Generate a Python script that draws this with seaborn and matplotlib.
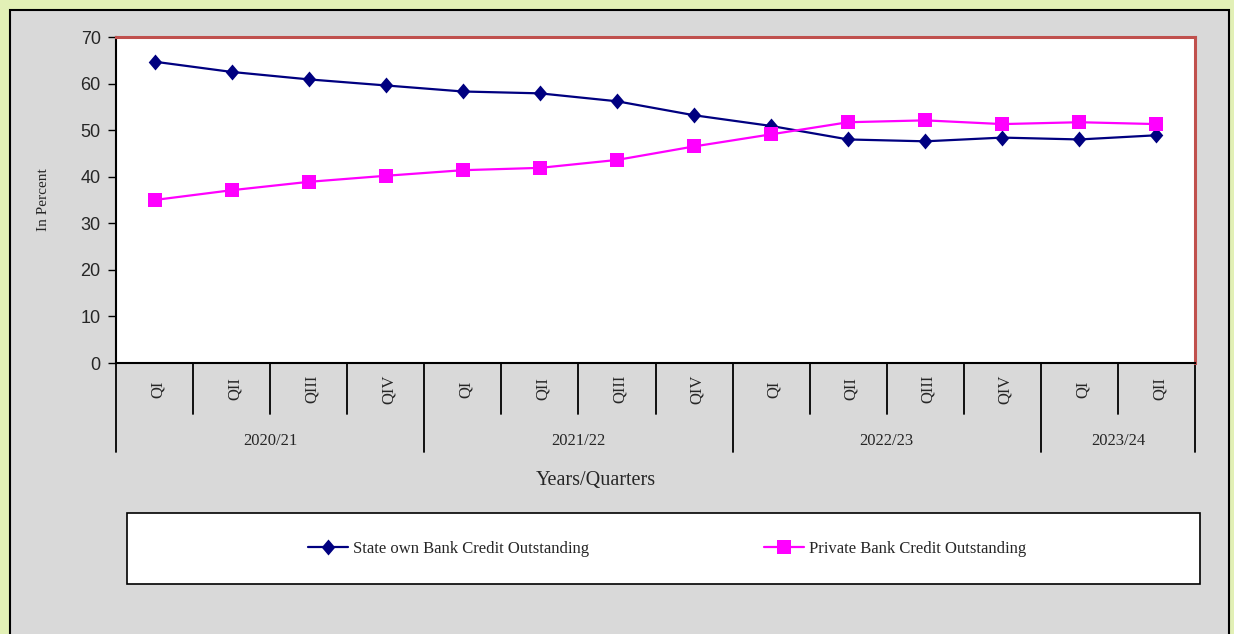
import matplotlib
matplotlib.use("Agg")
import matplotlib.pyplot as plt
from matplotlib.patches import Rectangle
import matplotlib.transforms as mtransforms
import numpy as np
import pandas as pd
import seaborn as sns

# data
quarters = ["QI", "QII", "QIII", "QIV", "QI", "QII", "QIII", "QIV",
            "QI", "QII", "QIII", "QIV", "QI", "QII"]
years = ["2020/21", "2021/22", "2022/23", "2023/24"]
quarters_per_year = [4, 4, 4, 2]
state_share = [64.7, 62.5, 60.9, 59.6, 58.3, 57.9, 56.2, 53.2,
               50.9, 48.0, 47.6, 48.4, 48.0, 48.9]
private_share = [35.0, 37.1, 38.9, 40.2, 41.4, 41.9, 43.6, 46.5,
                 49.1, 51.7, 52.1, 51.3, 51.7, 51.3]
series_names = ["State own Bank Credit Outstanding", "Private Bank Credit Outstanding"]

pos = np.arange(len(quarters))
df = pd.concat([
    pd.DataFrame({"pos": pos, "value": state_share, "series": series_names[0]}),
    pd.DataFrame({"pos": pos, "value": private_share, "series": series_names[1]}),
])

sns.set_style("white")
serif = ["Liberation Serif", "DejaVu Serif"]
plt.rcParams["font.family"] = ["Liberation Sans", "DejaVu Sans"]

W, H = 1234, 634
fig = plt.figure(figsize=(W / 100, H / 100), dpi=100, facecolor="#e2f0b6")

# grey chart panel
fig.patches.append(Rectangle((10 / W, -0.01), 1219 / W, 1 - 10 / H + 0.01,
                             transform=fig.transFigure, facecolor="#d9d9d9",
                             edgecolor="black", linewidth=1.5, zorder=-10))
# legend box
fig.patches.append(Rectangle((127 / W, 1 - 584 / H), 1073 / W, 71 / H,
                             transform=fig.transFigure, facecolor="white",
                             edgecolor="black", linewidth=1.2, zorder=-5))

ax = fig.add_axes([116 / W, 1 - 363 / H, (1195 - 116) / W, (363 - 37) / H])
ax.set_facecolor("white")

# excel-like diamond, a bit taller than wide
diamond = [(0, 1), (0.85, 0), (0, -1), (-0.85, 0), (0, 1)]
sns.lineplot(data=df, x="pos", y="value", hue="series", style="series",
             palette={series_names[0]: "#000080", series_names[1]: "#ff00ff"},
             markers={series_names[0]: diamond, series_names[1]: "s"},
             dashes=False, markersize=10, markeredgewidth=0, linewidth=1.6,
             ax=ax, legend=True)
for ln in ax.lines:
    if ln.get_color() == "#000080":
        ln.set_markersize(11.5)

ax.set_xlim(-0.5, len(quarters) - 0.5)
ax.set_ylim(0, 70)
ax.set_yticks(range(0, 71, 10))
ax.tick_params(axis="y", direction="out", length=6, width=1, color="black",
               labelsize=13, pad=5, left=True)
ax.set_xticks([])
ax.set_xlabel("")
ax.set_ylabel("In Percent", fontfamily=serif, fontsize=11, labelpad=22)

for side in ["top", "right"]:
    ax.spines[side].set_color("#c0504d")
    ax.spines[side].set_linewidth(2.2)
for side in ["left", "bottom"]:
    ax.spines[side].set_color("black")
    ax.spines[side].set_linewidth(1.5)

# multi-level category axis
trans = mtransforms.blended_transform_factory(ax.transData, ax.transAxes)
shift = trans + mtransforms.ScaledTranslation(3 / 100, 0, fig.dpi_scale_trans)
ah = 363 - 37
short = -51 / ah
long_ = -89 / ah
bounds = np.cumsum([0] + quarters_per_year) - 0.5
for b in np.arange(-0.5, len(quarters), 1.0):
    depth = long_ if np.any(np.isclose(bounds, b)) else short
    ax.plot([b, b], [0, depth], transform=trans, color="black", lw=1.3, clip_on=False)
for p, q in zip(pos, quarters):
    ax.text(p, -26 / ah, q, transform=shift, rotation=90, ha="center", va="center",
            fontfamily=serif, fontsize=12)
for i, yr in enumerate(years):
    ax.text((bounds[i] + bounds[i + 1]) / 2, -78 / ah, yr, transform=trans,
            ha="center", va="center", fontfamily=serif, fontsize=12)
fig.text(596 / W, 1 - 480 / H, "Years/Quarters", ha="center", va="center",
         fontfamily=serif, fontsize=14.5)

handles, labels = ax.get_legend_handles_labels()
ax.get_legend().remove()
fig.legend(handles, labels, loc="center", bbox_to_anchor=(667 / W, 1 - 549 / H),
           ncol=2, frameon=False, prop={"family": serif, "size": 12},
           handlelength=2.4, handletextpad=0.3, columnspacing=10.5)

fig.savefig("out.png", dpi=100, facecolor=fig.get_facecolor())
